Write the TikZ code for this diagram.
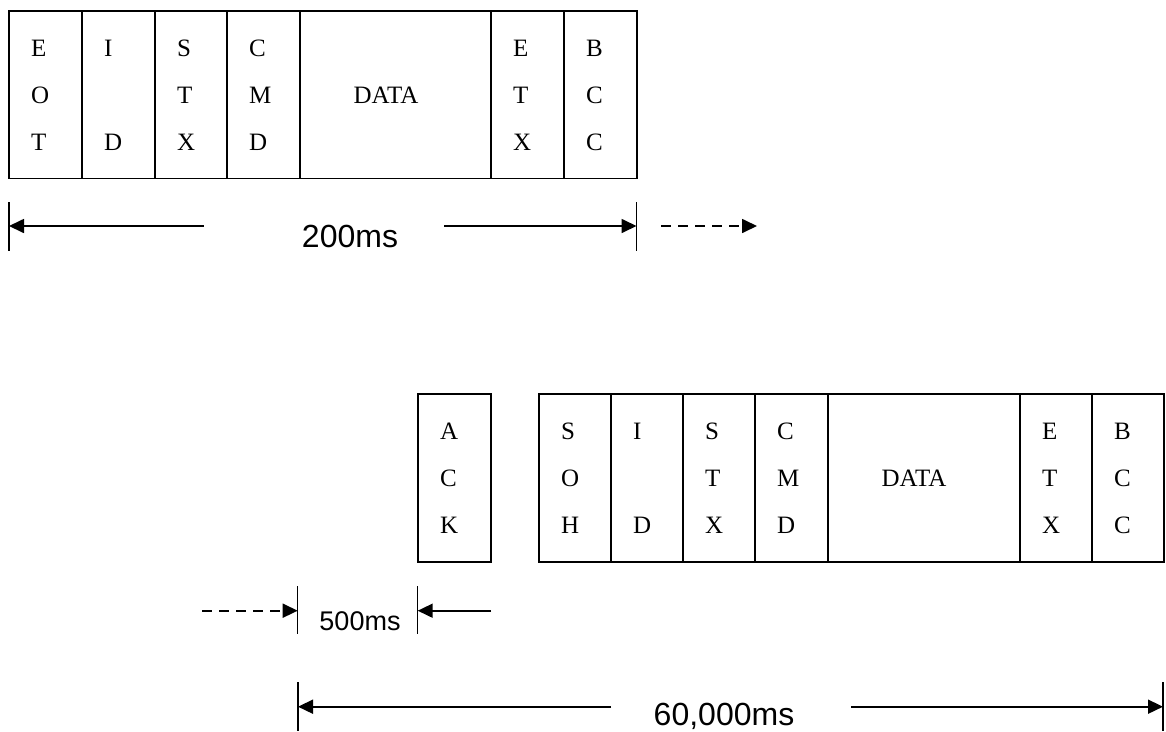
\documentclass[tikz,border=0pt]{standalone}
\usepackage{fontspec}
\setmainfont{Liberation Serif}
\newfontfamily\dimfont{Liberation Sans}
\usetikzlibrary{arrows.meta}
\begin{document}
\begin{tikzpicture}[x=1pt,y=-1pt,
  cell/.style={draw, line width=1.8pt, minimum width=#1, minimum height=167.5pt,
    inner sep=0pt, outer sep=0pt, anchor=north west},
  lt/.style={font=\fontsize{25}{30}\selectfont, inner sep=0pt, anchor=base west},
  dt/.style={font=\fontsize{25}{30}\selectfont, inner sep=0pt, anchor=base},
  tickline/.style={line width=1.4pt},
  dimline/.style={line width=1.7pt},
  tip/.style={-{Triangle[length=15pt,width=14pt]}},
  dashline/.style={line width=1.7pt, dash pattern=on 10pt off 7pt},
  lbl/.style={font=\dimfont\fontsize{32}{36}\selectfont, inner sep=0pt, anchor=base},
  lbls/.style={font=\dimfont\fontsize{27}{30}\selectfont, inner sep=0pt, anchor=base}
]
\useasboundingbox (0,0) rectangle (1166,731);

% ---------- top frame ----------
\node[cell=73pt] (tEOT) at (9,11) {};
\node[cell=73pt] (tID) at (82,11) {};
\node[cell=72pt] (tSTX) at (155,11) {};
\node[cell=73pt] (tCMD) at (227,11) {};
\node[cell=191pt] (tDATA) at (300,11) {};
\node[cell=73pt] (tETX) at (491,11) {};
\node[cell=73pt] (tBCC) at (564,11) {};

\foreach \c/\a/\b/\d in {tEOT/E/O/T, tSTX/S/T/X, tCMD/C/M/D, tETX/E/T/X, tBCC/B/C/C}{
  \node[lt] (\c-1) at ([shift={(22,45)}]\c.north west) {\a};
  \node[lt] (\c-2) at ([shift={(22,92)}]\c.north west) {\b};
  \node[lt] (\c-3) at ([shift={(22,139)}]\c.north west) {\d};
}
\node[lt] (tID-1) at ([shift={(22,45)}]tID.north west) {I};
\node[lt] (tID-3) at ([shift={(22,139)}]tID.north west) {D};
\node[dt] (tDATA-t) at ([shift={(86,92)}]tDATA.north west) {DATA};

% ---------- 200ms dimension ----------
\coordinate (k1t) at (9,202);   \coordinate (k1b) at (9,251);
\coordinate (k2t) at (636.5,202); \coordinate (k2b) at (636.5,251);
\coordinate (k1m) at (9,226);   \coordinate (k2m) at (636.5,226);
\coordinate (a1s) at (203.5,226); \coordinate (a2s) at (444,226);
\coordinate (a3s) at (661,226);  \coordinate (a3e) at (757,226);
\draw[tickline] (k1t) -- (k1b);
\draw[tickline] (k2t) -- (k2b);
\draw[dimline,tip] (a1s) -- (k1m);
\draw[dimline,tip] (a2s) -- (k2m);
\draw[dashline,tip] (a3s) -- (a3e);
\node[lbl] (l200) at (350,247) {200ms};

% ---------- bottom frames ----------
\node[cell=73pt, minimum height=168pt] (bACK) at (418,394) {};
\node[lt] (bACK-1) at ([shift={(22,45)}]bACK.north west) {A};
\node[lt] (bACK-2) at ([shift={(22,92)}]bACK.north west) {C};
\node[lt] (bACK-3) at ([shift={(22,139)}]bACK.north west) {K};

\node[cell=72pt, minimum height=168pt] (bSOH) at (539,394) {};
\node[cell=72pt, minimum height=168pt] (bID) at (611,394) {};
\node[cell=72pt, minimum height=168pt] (bSTX) at (683,394) {};
\node[cell=73pt, minimum height=168pt] (bCMD) at (755,394) {};
\node[cell=192pt, minimum height=168pt] (bDATA) at (828,394) {};
\node[cell=72pt, minimum height=168pt] (bETX) at (1020,394) {};
\node[cell=72pt, minimum height=168pt] (bBCC) at (1092,394) {};

\foreach \c/\a/\b/\d in {bSOH/S/O/H, bSTX/S/T/X, bCMD/C/M/D, bETX/E/T/X, bBCC/B/C/C}{
  \node[lt] (\c-1) at ([shift={(22,45)}]\c.north west) {\a};
  \node[lt] (\c-2) at ([shift={(22,92)}]\c.north west) {\b};
  \node[lt] (\c-3) at ([shift={(22,139)}]\c.north west) {\d};
}
\node[lt] (bID-1) at ([shift={(22,45)}]bID.north west) {I};
\node[lt] (bID-3) at ([shift={(22,139)}]bID.north west) {D};
\node[dt] (bDATA-t) at ([shift={(86,92)}]bDATA.north west) {DATA};

% ---------- 500ms dimension ----------
\coordinate (k3t) at (297.7,586); \coordinate (k3b) at (297.7,634);
\coordinate (k4t) at (417.7,586); \coordinate (k4b) at (417.7,634);
\coordinate (k3m) at (297.7,610.7); \coordinate (k4m) at (417.7,610.7);
\coordinate (a4s) at (202,610.7); \coordinate (a5s) at (491,610.7);
\draw[tickline] (k3t) -- (k3b);
\draw[tickline] (k4t) -- (k4b);
\draw[dashline,tip] (a4s) -- (k3m);
\draw[dimline,tip] (a5s) -- (k4m);
\node[lbls] (l500) at (360,630) {500ms};

% ---------- 60,000ms dimension ----------
\coordinate (k5t) at (298,682); \coordinate (k5b) at (298,731);
\coordinate (k6t) at (1163,682); \coordinate (k6b) at (1163,731);
\coordinate (k5m) at (298,706.7); \coordinate (k6m) at (1163,706.7);
\coordinate (a6s) at (611,706.7); \coordinate (a7s) at (851,706.7);
\draw[tickline] (k5t) -- (k5b);
\draw[tickline] (k6t) -- (k6b);
\draw[dimline,tip] (a6s) -- (k5m);
\draw[dimline,tip] (a7s) -- (k6m);
\node[lbl] (l60000) at (724,725) {60,000ms};
\end{tikzpicture}
\end{document}
